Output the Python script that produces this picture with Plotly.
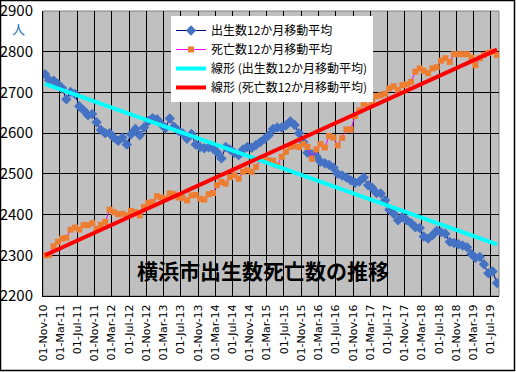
import numpy as np
import pandas as pd
import plotly.graph_objects as go

# monthly 12-month moving averages, Nov 2010 .. Aug 2019
births = [2745, 2730, 2729, 2720, 2711, 2683, 2701, 2696, 2666, 2656,
          2644, 2647, 2627, 2608, 2600, 2600, 2589, 2581, 2589, 2572,
          2597, 2610, 2595, 2614, 2630, 2637, 2634, 2622, 2612, 2636,
          2616, 2606, 2599, 2586, 2598, 2572, 2566, 2563, 2565, 2562,
          2553, 2538, 2566, 2560, 2552, 2546, 2560, 2566, 2564, 2571,
          2578, 2586, 2595, 2610, 2614, 2614, 2619, 2629, 2620, 2600,
          2578, 2552, 2548, 2543, 2530, 2526, 2522, 2515, 2500, 2496,
          2491, 2484, 2478, 2481, 2491, 2472, 2466, 2453, 2452, 2435,
          2412, 2402, 2386, 2394, 2386, 2379, 2369, 2367, 2346, 2341,
          2349, 2360, 2357, 2353, 2333, 2330, 2327, 2324, 2320, 2303,
          2294, 2296, 2278, 2256, 2260, 2232]
deaths = [2300, 2301, 2322, 2333, 2341, 2343, 2363, 2368, 2363, 2374,
          2374, 2379, 2365, 2375, 2382, 2412, 2406, 2401, 2402, 2398,
          2409, 2406, 2398, 2419, 2429, 2431, 2445, 2442, 2439, 2452,
          2450, 2442, 2441, 2435, 2447, 2448, 2439, 2437, 2450, 2453,
          2472, 2480, 2476, 2492, 2497, 2488, 2505, 2509, 2505, 2517,
          2535, 2535, 2533, 2532, 2521, 2542, 2554, 2566, 2568, 2566,
          2573, 2566, 2537, 2560, 2573, 2565, 2593, 2589, 2570, 2588,
          2609, 2609, 2642, 2656, 2671, 2666, 2677, 2691, 2693, 2697,
          2710, 2715, 2706, 2718, 2720, 2726, 2751, 2759, 2753, 2747,
          2759, 2762, 2778, 2784, 2775, 2794, 2794, 2794, 2794, 2786,
          2767, 2784, 2792, 2797, 2800, 2792]
dates = pd.date_range("2010-11-01", periods=len(births), freq="MS") + pd.Timedelta(days=14)
y_ticks = [2200, 2300, 2400, 2500, 2600, 2700, 2800, 2900]

names = ["出生数12か月移動平均", "死亡数12か月移動平均",
         "線形 (出生数12か月移動平均)", "線形 (死亡数12か月移動平均)"]
title_text = "横浜市出生数死亡数の推移"
unit_text = "人"

idx = np.arange(len(births))
fb = np.polyfit(idx, births, 1)
fd = np.polyfit(idx, deaths, 1)
ends = np.array([idx[0], idx[-1]])
tx = [dates[0], dates[-1]]

FONT = "Noto Sans CJK JP"
fig = go.Figure()
fig.add_trace(go.Scatter(x=dates, y=births, name=names[0], mode="lines+markers",
                         line=dict(color="#000080", width=1),
                         marker=dict(symbol="diamond", size=8, color="#4472C4")))
fig.add_trace(go.Scatter(x=dates, y=deaths, name=names[1], mode="lines+markers",
                         line=dict(color="#FF00FF", width=1),
                         marker=dict(symbol="square", size=6, color="#ED7D31")))
fig.add_trace(go.Scatter(x=tx, y=np.polyval(fb, ends), name=names[2], mode="lines",
                         line=dict(color="#00FFFF", width=4)))
fig.add_trace(go.Scatter(x=tx, y=np.polyval(fd, ends), name=names[3], mode="lines",
                         line=dict(color="#FF0000", width=4)))

W, H = 516, 372
ml, mr, mt, mb = 43, 17, 11, 76
pw, ph = W - ml - mr, H - mt - mb

fig.update_layout(
    width=W, height=H, margin=dict(l=ml, r=mr, t=mt, b=mb, pad=0, autoexpand=False),
    paper_bgcolor="white", plot_bgcolor="#C0C0C0",
    font=dict(family=FONT, color="black"),
    showlegend=True,
    legend=dict(x=(171 - ml) / pw, y=1 - (16 - mt) / ph, xanchor="left", yanchor="top",
                bgcolor="white", borderwidth=0, font=dict(size=12, family=FONT),
                tracegroupgap=0, itemwidth=30),
    xaxis=dict(type="date", range=["2010-11-01", "2019-08-29"],
               tick0="2010-11-01", dtick="M4", tickformat="%d-%b-%y",
               tickangle=-90, tickfont=dict(size=11, family="DejaVu Sans"),
               showgrid=True, gridcolor="black", gridwidth=1, automargin=False,
               showline=True, linecolor="black", linewidth=1, zeroline=False,
               ticks="", ticklabelstandoff=3),
    yaxis=dict(range=[2200, 2900.01], tickmode="array", tickvals=y_ticks,
               tickfont=dict(size=15, family=FONT),
               showgrid=True, gridcolor="black", gridwidth=1, automargin=False,
               showline=True, linecolor="black", linewidth=1, zeroline=False,
               ticks="", ticklabelstandoff=6, ticklabeloverflow="allow"),
    shapes=[
        dict(type="rect", xref="paper", yref="paper", x0=0, x1=1, y0=0, y1=1,
             line=dict(color="#808080", width=1), layer="below"),
        dict(type="rect", xref="paper", yref="paper",
             x0=-(ml - 0.5) / pw, x1=1 + (mr - 1.5) / pw,
             y0=-(mb - 1.5) / ph, y1=1 + (mt - 0.5) / ph,
             line=dict(color="black", width=1.5)),
    ],
    annotations=[
        dict(text=title_text, xref="paper", yref="paper",
             x=(135 - ml) / pw, y=1 - (270 - mt) / ph, xanchor="left", yanchor="middle",
             showarrow=False, font=dict(size=21, family=FONT, color="black", weight="bold")),
        dict(text=unit_text, xref="paper", yref="paper",
             x=(18 - ml) / pw, y=1 - (29 - mt) / ph, xanchor="center", yanchor="middle",
             showarrow=False, font=dict(size=13, family=FONT, color="#2E75B6")),
    ],
)
fig.write_html("out.html", config={"displayModeBar": False},
               post_script="document.body.style.margin='0';document.body.style.padding='0';")
